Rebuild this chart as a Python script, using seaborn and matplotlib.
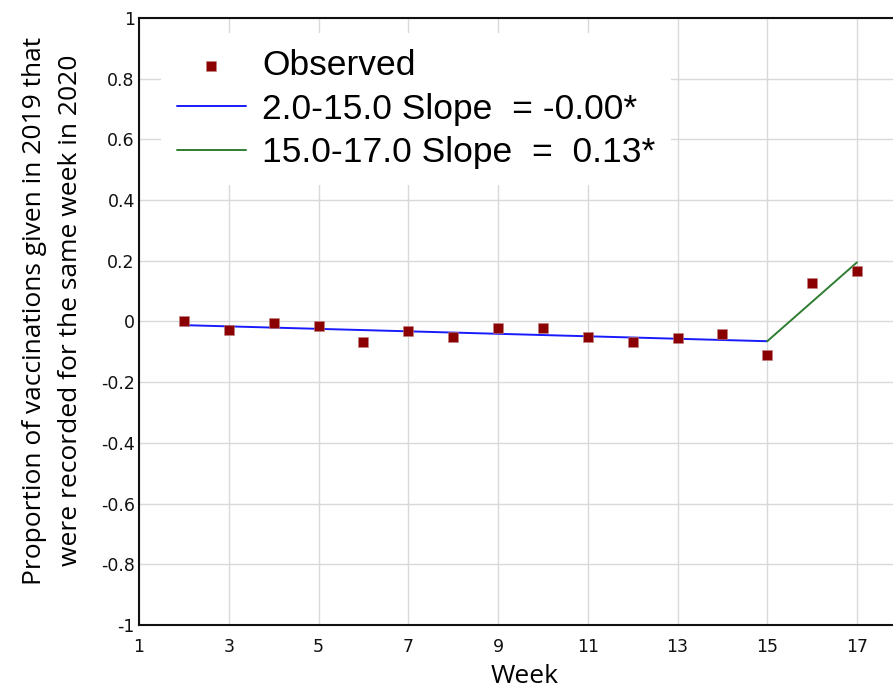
import matplotlib
matplotlib.use("Agg")
import matplotlib.pyplot as plt
import seaborn as sns
import pandas as pd

weeks = [2, 3, 4, 5, 6, 7, 8, 9, 10, 11, 12, 13, 14, 15, 16, 17]
observed = [0.0, -0.028, -0.004, -0.014, -0.067, -0.030, -0.050, -0.020, -0.020,
            -0.050, -0.068, -0.054, -0.040, -0.110, 0.127, 0.165]

seg1_weeks = [2, 15]
seg1_vals = [-0.012, -0.065]
seg2_weeks = [15, 17]
seg2_vals = [-0.065, 0.195]

x_ticks = [1, 3, 5, 7, 9, 11, 13, 15, 17]
y_ticks = [-1, -0.8, -0.6, -0.4, -0.2, 0, 0.2, 0.4, 0.6, 0.8, 1]
y_tick_labels = ["-1", "-0.8", "-0.6", "-0.4", "-0.2", "0", "0.2", "0.4", "0.6", "0.8", "1"]

label_obs = "Observed"
label_seg1 = "2.0-15.0 Slope  = -0.00*"
label_seg2 = "15.0-17.0 Slope  =  0.13*"

sns.set_style("whitegrid")
plt.rcParams["font.family"] = ["DejaVu Sans"]

fig = plt.figure(figsize=(8.93, 6.92), dpi=100)
left_px, right_px, top_px, bottom_px = 139, 911, 18, 625
ax = fig.add_axes([left_px / 893, 1 - bottom_px / 692,
                   (right_px - left_px) / 893, (bottom_px - top_px) / 692])

df_obs = pd.DataFrame({"week": weeks, "val": observed})
df1 = pd.DataFrame({"week": seg1_weeks, "val": seg1_vals})
df2 = pd.DataFrame({"week": seg2_weeks, "val": seg2_vals})

sns.scatterplot(data=df_obs, x="week", y="val", ax=ax, marker="s", s=42,
                color="#8b0000", edgecolor="#c08080", linewidth=0.4, label=label_obs, zorder=4)
sns.lineplot(data=df1, x="week", y="val", ax=ax, color="#1a1aff", lw=1.4,
             label=label_seg1, zorder=3)
sns.lineplot(data=df2, x="week", y="val", ax=ax, color="#2e7d32", lw=1.4,
             label=label_seg2, zorder=3)

ax.set_xlim(1, 1 + (right_px - left_px) / ((857 - 139) / 16))
ax.set_ylim(-1, 1)
ax.set_xticks(x_ticks)
ax.set_xticklabels([str(t) for t in x_ticks], fontsize=12.5, family="DejaVu Sans")
ax.set_yticks(y_ticks)
ax.set_yticklabels(y_tick_labels, fontsize=12.5, family="DejaVu Sans")
ax.tick_params(axis="y", length=0, pad=3, colors="#111111")
ax.tick_params(axis="x", length=0, pad=9, colors="#111111")
ax.grid(True, color="#d9d9d9", lw=1)
for s in ["left", "bottom", "top"]:
    ax.spines[s].set_visible(True)
    ax.spines[s].set_color("#111111")
    ax.spines[s].set_linewidth(1.5)
ax.spines["right"].set_visible(False)

ax.set_xlabel("Week", fontsize=19, family="Open Sans", labelpad=6, color="black")
ax.set_ylabel("Proportion of vaccinations given in 2019 that\nwere recorded for the same week in 2020",
              fontsize=19, family="Open Sans", labelpad=12.5, color="black",
              linespacing=1.6, y=0.518)

ax_w_px = right_px - left_px
leg = ax.legend(loc="upper left", bbox_to_anchor=(22 / ax_w_px, 0.975),
                prop={"family": "Liberation Sans", "size": 25.5},
                frameon=True, facecolor="white", edgecolor="none", framealpha=1,
                fancybox=False, handlelength=1.95, handletextpad=0.45,
                labelspacing=0.3, borderpad=0.45, borderaxespad=0,
                labelcolor="black")
leg.set_zorder(5)

fig.savefig("out.png", dpi=100)
